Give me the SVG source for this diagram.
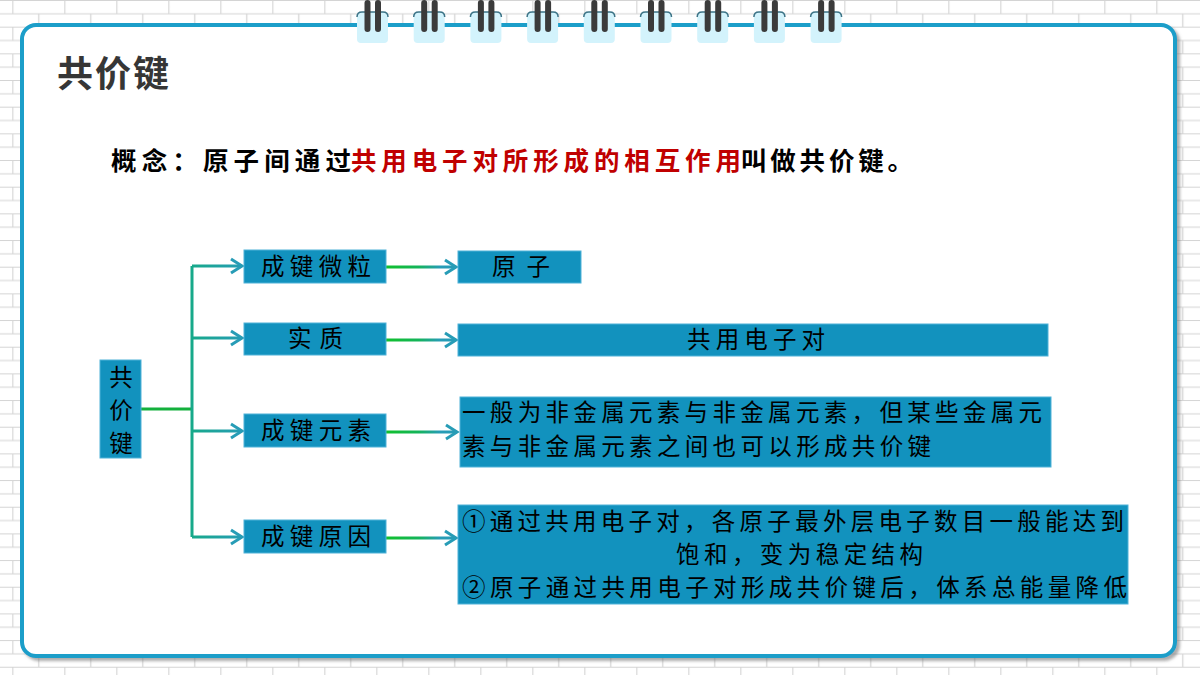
<svg xmlns="http://www.w3.org/2000/svg" width="1200" height="675" viewBox="0 0 1200 675">
  <defs>
    <pattern id="bricks" patternUnits="userSpaceOnUse" width="52" height="26.67" patternTransform="translate(12.3,0)">
      <rect width="52" height="26.67" fill="#ffffff"/>
      <path d="M0,0.5 H52 M0,13.83 H52 M0.5,0 V13.33 M26.5,13.33 V26.67" stroke="#d4d4d4" stroke-width="1.2" fill="none"/>
    </pattern>
    <filter id="shadow" x="-5%" y="-5%" width="110%" height="110%">
      <feDropShadow dx="3" dy="3" stdDeviation="1.5" flood-color="#777777" flood-opacity="0.6"/>
    </filter>
    <linearGradient id="gBranch" gradientUnits="userSpaceOnUse" x1="192" y1="0" x2="244" y2="0">
      <stop offset="0" stop-color="#17a98a"/>
      <stop offset="1" stop-color="#279cb6"/>
    </linearGradient>
    <linearGradient id="gConn" gradientUnits="userSpaceOnUse" x1="386" y1="0" x2="458" y2="0">
      <stop offset="0" stop-color="#10c02c"/>
      <stop offset="0.45" stop-color="#14b45a"/>
      <stop offset="0.75" stop-color="#279cb6"/>
      <stop offset="1" stop-color="#279cb6"/>
    </linearGradient>
    <marker id="arrow" markerUnits="userSpaceOnUse" viewBox="-3 -3 17 20" markerWidth="17" markerHeight="20" refX="11" refY="7" orient="auto">
      <path d="M0,0 L11,7 L0,14" fill="none" stroke="#279cb6" stroke-width="3" stroke-linejoin="miter"/>
    </marker>
    <style>
      .box { fill: #1292be; stroke: #4fb2d8; stroke-width: 1; }
      .bt { font-family: "Noto Sans CJK SC", "Noto Sans", sans-serif; font-size: 23.5px; fill: #000000; }
      .tab { fill: #d3f3fc; }
      .tabtop { fill: none; stroke: #3d7487; stroke-width: 1.5; }
      .bar { fill: #3b3b3b; }
      .conn { fill: none; stroke-width: 3; }
    </style>
  </defs>

  <!-- background -->
  <rect x="0" y="0" width="1200" height="675" fill="url(#bricks)"/>

  <!-- frame -->
  <rect x="22" y="25" width="1153" height="631" rx="14" ry="14" fill="#ffffff" stroke="#1a9ec9" stroke-width="4" filter="url(#shadow)"/>

  <!-- rings -->
  <g id="rings">
    <g transform="translate(372.5,0)">
      <rect class="tab" x="-15.5" y="12" width="31" height="31" rx="4"/>
      <path class="tabtop" d="M-15.5,17 Q-15.5,12 -10.5,12 H10.5 Q15.5,12 15.5,17"/>
      <rect class="bar" x="-8" y="0" width="6" height="32" rx="3"/>
      <rect class="bar" x="2.5" y="0" width="6" height="32" rx="3"/>
    </g>
    <g transform="translate(429.2,0)">
      <rect class="tab" x="-15.5" y="12" width="31" height="31" rx="4"/>
      <path class="tabtop" d="M-15.5,17 Q-15.5,12 -10.5,12 H10.5 Q15.5,12 15.5,17"/>
      <rect class="bar" x="-8" y="0" width="6" height="32" rx="3"/>
      <rect class="bar" x="2.5" y="0" width="6" height="32" rx="3"/>
    </g>
    <g transform="translate(485.9,0)">
      <rect class="tab" x="-15.5" y="12" width="31" height="31" rx="4"/>
      <path class="tabtop" d="M-15.5,17 Q-15.5,12 -10.5,12 H10.5 Q15.5,12 15.5,17"/>
      <rect class="bar" x="-8" y="0" width="6" height="32" rx="3"/>
      <rect class="bar" x="2.5" y="0" width="6" height="32" rx="3"/>
    </g>
    <g transform="translate(542.6,0)">
      <rect class="tab" x="-15.5" y="12" width="31" height="31" rx="4"/>
      <path class="tabtop" d="M-15.5,17 Q-15.5,12 -10.5,12 H10.5 Q15.5,12 15.5,17"/>
      <rect class="bar" x="-8" y="0" width="6" height="32" rx="3"/>
      <rect class="bar" x="2.5" y="0" width="6" height="32" rx="3"/>
    </g>
    <g transform="translate(599.3,0)">
      <rect class="tab" x="-15.5" y="12" width="31" height="31" rx="4"/>
      <path class="tabtop" d="M-15.5,17 Q-15.5,12 -10.5,12 H10.5 Q15.5,12 15.5,17"/>
      <rect class="bar" x="-8" y="0" width="6" height="32" rx="3"/>
      <rect class="bar" x="2.5" y="0" width="6" height="32" rx="3"/>
    </g>
    <g transform="translate(656,0)">
      <rect class="tab" x="-15.5" y="12" width="31" height="31" rx="4"/>
      <path class="tabtop" d="M-15.5,17 Q-15.5,12 -10.5,12 H10.5 Q15.5,12 15.5,17"/>
      <rect class="bar" x="-8" y="0" width="6" height="32" rx="3"/>
      <rect class="bar" x="2.5" y="0" width="6" height="32" rx="3"/>
    </g>
    <g transform="translate(712.7,0)">
      <rect class="tab" x="-15.5" y="12" width="31" height="31" rx="4"/>
      <path class="tabtop" d="M-15.5,17 Q-15.5,12 -10.5,12 H10.5 Q15.5,12 15.5,17"/>
      <rect class="bar" x="-8" y="0" width="6" height="32" rx="3"/>
      <rect class="bar" x="2.5" y="0" width="6" height="32" rx="3"/>
    </g>
    <g transform="translate(769.4,0)">
      <rect class="tab" x="-15.5" y="12" width="31" height="31" rx="4"/>
      <path class="tabtop" d="M-15.5,17 Q-15.5,12 -10.5,12 H10.5 Q15.5,12 15.5,17"/>
      <rect class="bar" x="-8" y="0" width="6" height="32" rx="3"/>
      <rect class="bar" x="2.5" y="0" width="6" height="32" rx="3"/>
    </g>
    <g transform="translate(826.1,0)">
      <rect class="tab" x="-15.5" y="12" width="31" height="31" rx="4"/>
      <path class="tabtop" d="M-15.5,17 Q-15.5,12 -10.5,12 H10.5 Q15.5,12 15.5,17"/>
      <rect class="bar" x="-8" y="0" width="6" height="32" rx="3"/>
      <rect class="bar" x="2.5" y="0" width="6" height="32" rx="3"/>
    </g>
  </g>

  <!-- title -->
  <text id="title" x="57" y="87" font-family="'Noto Sans CJK SC', 'Noto Sans', sans-serif" font-size="36" font-weight="bold" fill="#363636" letter-spacing="2">共价键</text>

  <!-- concept line -->
  <g id="concept" font-family="'Noto Sans CJK SC', 'Noto Sans', sans-serif" font-size="25.5" font-weight="bold">
    <text x="111" y="170" fill="#000000" textLength="240" lengthAdjust="spacing">概念：原子间通过</text>
    <text x="351" y="170" fill="#c00000" textLength="390" lengthAdjust="spacing">共用电子对所形成的相互作用</text>
    <text x="741" y="170" fill="#000000" textLength="172" lengthAdjust="spacing">叫做共价键。</text>
  </g>

  <!-- connectors -->
  <g id="connectors">
    <path class="conn" d="M141,409 H192" stroke="#13b03c"/>
    <path class="conn" d="M192,266 V537" stroke="#17a98a"/>
    <path class="conn" d="M192,266 H242" stroke="url(#gBranch)" marker-end="url(#arrow)"/>
    <path class="conn" d="M192,338 H242" stroke="url(#gBranch)" marker-end="url(#arrow)"/>
    <path class="conn" d="M192,431 H242" stroke="url(#gBranch)" marker-end="url(#arrow)"/>
    <path class="conn" d="M192,537 H242" stroke="url(#gBranch)" marker-end="url(#arrow)"/>
    <path class="conn" d="M386,267 H456" stroke="url(#gConn)" marker-end="url(#arrow)"/>
    <path class="conn" d="M386,340 H456" stroke="url(#gConn)" marker-end="url(#arrow)"/>
    <path class="conn" d="M386,432 H457" stroke="url(#gConn)" marker-end="url(#arrow)"/>
    <path class="conn" d="M386,538 H456" stroke="url(#gConn)" marker-end="url(#arrow)"/>
  </g>

  <!-- nodes -->
  <g id="node-root">
    <rect class="box" x="100" y="360" width="41" height="98"/>
    <text class="bt" x="121" y="386" text-anchor="middle">共</text>
    <text class="bt" x="121" y="419" text-anchor="middle">价</text>
    <text class="bt" x="121" y="452" text-anchor="middle">键</text>
  </g>

  <g id="node-particle">
    <rect class="box" x="244" y="250" width="142" height="33"/>
    <text class="bt" x="261" y="275" textLength="110" lengthAdjust="spacing">成键微粒</text>
  </g>
  <g id="node-essence">
    <rect class="box" x="244" y="323" width="142" height="32"/>
    <text class="bt" x="288" y="347" textLength="55" lengthAdjust="spacing">实质</text>
  </g>
  <g id="node-element">
    <rect class="box" x="244" y="414" width="142" height="33"/>
    <text class="bt" x="261" y="439" textLength="110" lengthAdjust="spacing">成键元素</text>
  </g>
  <g id="node-reason">
    <rect class="box" x="244" y="520" width="142" height="33"/>
    <text class="bt" x="261" y="545" textLength="110" lengthAdjust="spacing">成键原因</text>
  </g>

  <g id="node-atom">
    <rect class="box" x="458" y="251" width="123" height="32"/>
    <text class="bt" x="492" y="275" textLength="58" lengthAdjust="spacing">原子</text>
  </g>
  <g id="node-pair">
    <rect class="box" x="458" y="324" width="590" height="32"/>
    <text class="bt" x="687" y="348" textLength="138" lengthAdjust="spacing">共用电子对</text>
  </g>
  <g id="node-elements-desc">
    <rect class="box" x="460" y="397" width="591" height="70"/>
    <text class="bt" x="462" y="421" textLength="580" lengthAdjust="spacing">一般为非金属元素与非金属元素，但某些金属元</text>
    <text class="bt" x="462" y="455" textLength="469" lengthAdjust="spacing">素与非金属元素之间也可以形成共价键</text>
  </g>
  <g id="node-reason-desc">
    <rect class="box" x="458" y="505" width="670" height="99"/>
    <text class="bt" x="462" y="530" textLength="662" lengthAdjust="spacing">①通过共用电子对，各原子最外层电子数目一般能达到</text>
    <text class="bt" x="676" y="563" textLength="247" lengthAdjust="spacing">饱和，变为稳定结构</text>
    <text class="bt" x="462" y="596" textLength="665" lengthAdjust="spacing">②原子通过共用电子对形成共价键后，体系总能量降低</text>
  </g>
</svg>
